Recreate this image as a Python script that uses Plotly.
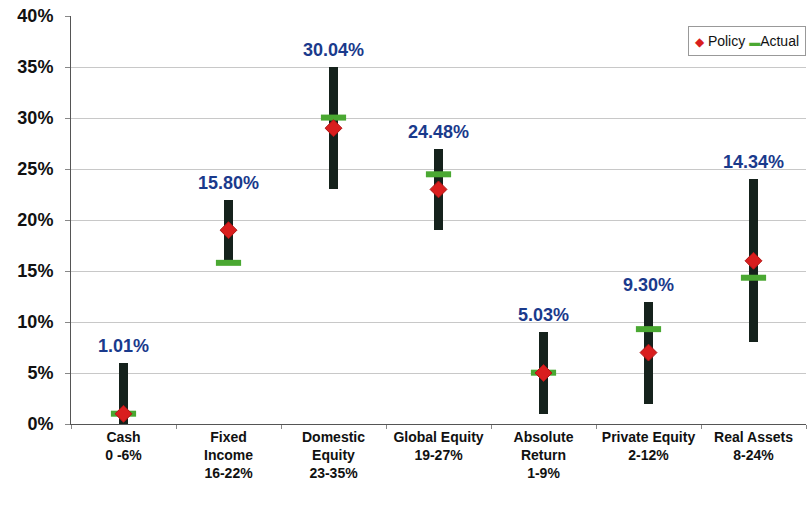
import plotly.graph_objects as go

categories = ["Cash<br>0 -6%", "Fixed<br>Income<br>16-22%", "Domestic<br>Equity<br>23-35%",
              "Global Equity<br>19-27%", "Absolute<br>Return<br>1-9%", "Private Equity<br>2-12%",
              "Real Assets<br>8-24%"]
range_low = [0, 16, 23, 19, 1, 2, 8]
range_high = [6, 22, 35, 27, 9, 12, 24]
policy = [1, 19, 29, 23, 5, 7, 16]
actual = [1.01, 15.80, 30.04, 24.48, 5.03, 9.30, 14.34]
y_ticks = [0, 5, 10, 15, 20, 25, 30, 35, 40]

fig = go.Figure()
fig.add_trace(go.Bar(
    x=categories, y=[h - l for h, l in zip(range_high, range_low)], base=range_low,
    width=0.088, marker=dict(color="#15221c", line=dict(width=0)),
    showlegend=False, hoverinfo="skip"))
fig.add_trace(go.Scatter(
    x=categories, y=actual, mode="markers", name="Actual", showlegend=False,
    marker=dict(symbol="line-ew", size=18, line=dict(color="#4aa832", width=6))))
fig.add_trace(go.Scatter(
    x=categories, y=policy, mode="markers", name="Policy", showlegend=False,
    marker=dict(symbol="diamond", size=13, color="#d91e1e",
                line=dict(color="#b01515", width=1))))

for c, h, a in zip(categories, range_high, actual):
    fig.add_annotation(x=c, y=h, text=f"{a:.2f}%", showarrow=False,
                       yanchor="bottom", yshift=5,
                       font=dict(family="Liberation Sans, Arial, sans-serif", size=18,
                                 color="#1a3a8c", weight="bold"))

fig.add_annotation(
    x=1.0, y=0.975, xref="paper", yref="paper", xanchor="right", yanchor="top",
    showarrow=False, align="left",
    text='<span style="color:#d91e1e;font-size:12px">◆</span> Policy '
         '<span style="color:#4aa832;font-size:11px">▬</span>Actual',
    font=dict(family="Liberation Sans, Arial, sans-serif", size=14, color="#111"),
    bgcolor="white", bordercolor="#999", borderwidth=1, borderpad=6)

fig.update_layout(
    width=808, height=507,
    margin=dict(l=71, r=2, t=16, b=83),
    paper_bgcolor="white", plot_bgcolor="white",
    font=dict(family="Liberation Sans, Arial, sans-serif", color="#111"),
    bargap=0, showlegend=False,
    xaxis=dict(type="category", tickson="boundaries", ticks="outside", ticklen=4,
               tickcolor="#888", showline=True, linecolor="#555", linewidth=1,
               showgrid=False, range=[-0.5, 6.5], tickangle=0, automargin=False,
               tickfont=dict(family="Liberation Sans, Arial, sans-serif",
                             size=14, color="#111", weight="bold")),
    yaxis=dict(range=[0, 40], tickvals=y_ticks, ticktext=[f"{v}%" for v in y_ticks],
               ticks="outside", ticklen=5, tickcolor="#888",
               showline=True, linecolor="#555", linewidth=1,
               showgrid=True, gridcolor="#c8c8c8", gridwidth=1, zeroline=False,
               tickfont=dict(size=18, color="#111", family="Liberation Sans, Arial, sans-serif", weight="bold"),
               ticklabelstandoff=8),
)
fig.write_html("out.html")
